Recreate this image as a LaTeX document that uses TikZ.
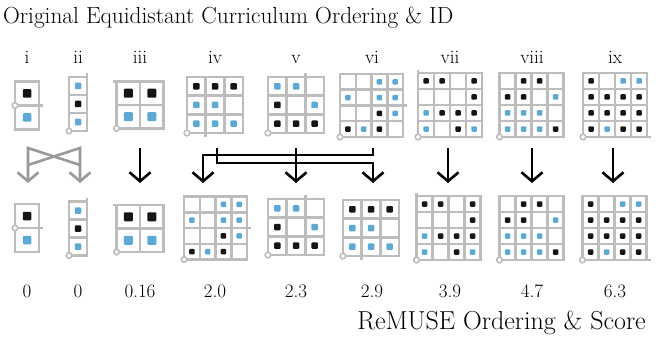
\documentclass[tikz,border=0pt]{standalone}
\usetikzlibrary{arrows.meta}
\definecolor{gridgray}{HTML}{BDBDBD}
\definecolor{arrgray}{HTML}{999999}
\definecolor{dotk}{HTML}{151515}
\definecolor{dotb}{HTML}{5AA9D6}
\colorlet{dote}{white}
\tikzset{
  gridline/.style={draw=gridgray,line width=2.5pt},
  origin/.style={draw=gridgray,fill=white,line width=1.6pt},
  barb/.style={-{Straight Barb[length=9pt,width=21pt]}},
  barrow/.style={draw=black,line width=2.6pt,barb},
  garrow/.style={draw=arrgray,line width=2.6pt,barb},
  lab/.style={font=\fontsize{19}{22}\selectfont,anchor=base},
  ttl/.style={font=\fontsize{23.3}{27}\selectfont},
  sttl/.style={font=\fontsize{26}{30}\selectfont},
}
% #1 name, #2 cx, #3 cy, #4 cols, #5 rows, #6 cell, #7 dot, #8 rows list macro, #9 extra
\newcommand\mkgrid[9]{%
  \begin{scope}[shift={({#2-#4*#6/2},{-#3+#5*#6/2})}]
    \pgfmathsetmacro\gw{#4*#6}%
    \pgfmathsetmacro\gh{#5*#6}%
    \pgfmathsetmacro\cs{#6}%
    \coordinate (#1) at ({\gw/2},{-\gh/2});
    \draw[gridline,step=#6] (0,0) grid (\gw,-\gh);
    \draw[gridline] (0,0) rectangle (\gw,-\gh);
    \foreach \row [count=\j] in #8 {
      \foreach \c [count=\i] in \row {
        \fill[dot\c,rounded corners=1pt] ({(\i-0.5)*#6-#7/2},{-(\j-0.5)*#6-#7/2}) rectangle ++(#7,#7);
      }
    }
    #9
  \end{scope}}
\begin{document}
\begin{tikzpicture}[x=1pt,y=1pt]
\useasboundingbox (0,0) rectangle (662,-337);
\node[ttl,anchor=base west,inner sep=0] (title) at (3,-24) {Original Equidistant Curriculum Ordering \& ID};
\node[sttl,anchor=base east,inner sep=0] (subtitle) at (646,-329) {ReMUSE Ordering \& Score};
% labels
\foreach \t/\x [count=\n] in {i/27,ii/78,iii/140,iv/215,v/296,vi/372,vii/450,viii/532,ix/615} {
  \node[lab] (id\n) at (\x,-64) {\t};
}
\foreach \t/\x [count=\n] in {0/27,0/78,0.16/140,2.0/215,2.3/296,2.9/372,3.9/450,4.7/532,6.3/615} {
  \node[lab] (sc\n) at (\x,-297) {\t};
}
% ---- grid contents
\def\Gi{{k},{b}}
\def\Gii{{b},{k},{b}}
\def\Giii{{k,k},{b,b}}
\def\Giv{{k,k,k},{b,b,e},{b,b,b}}
\def\Gv{{b,b,e},{k,e,b},{k,k,k}}
\def\Gvi{{e,e,b,b},{b,e,b,b},{e,e,k,b},{k,b,k,e}}
\def\Gvii{{k,k,e,k},{e,e,e,k},{b,k,k,k},{b,e,k,b}}
\def\Gviii{{e,k,k,e},{k,k,e,b},{b,b,b,e},{b,b,b,k}}
\def\Gix{{k,e,b,b},{k,k,k,k},{k,k,k,k},{k,b,k,k}}
% ---- top row
\mkgrid{t1}{27}{105.5}{1}{2}{24}{8.5}{\Gi}{\draw[gridline](\gw,-\gh/2)--++(4,0);\draw[origin](0,-\gh/2) circle (2.8);}
\mkgrid{t2}{78}{104}{1}{3}{18}{6.5}{\Gii}{\draw[gridline](\gw,0)--++(0,4);\draw[origin](0,-\gh) circle (2.8);}
\mkgrid{t3}{140}{105}{2}{2}{23.5}{9}{\Giii}{\draw[gridline](0,0)--++(-4,0);\draw[origin](0,-\gh) circle (2.8);}
\mkgrid{t4}{215}{105}{3}{3}{18.7}{6.5}{\Giv}{\draw[gridline](\cs,-\gh)--++(0,-4);\draw[origin](0,-\gh) circle (2.8);}
\mkgrid{t5}{296}{105}{3}{3}{18.7}{6.5}{\Gv}{\draw[gridline](2*\cs,0)--++(0,4);\draw[origin](0,-\gh) circle (2.8);}
\mkgrid{t6}{371.5}{105.5}{4}{4}{15.75}{5.5}{\Gvi}{\draw[gridline](\gw,-\gh/2)--++(4,0);\draw[origin](0,-\gh) circle (2.8);}
\mkgrid{t7}{450}{105}{4}{4}{16}{5.5}{\Gvii}{\draw[gridline](0,0)--++(0,3);\draw[origin](0,-\gh) circle (2.8);}
\mkgrid{t8}{531.5}{105}{4}{4}{16}{5.5}{\Gviii}{\draw[origin](0,-\gh) circle (2.8);}
\mkgrid{t9}{615}{105}{4}{4}{16}{5.5}{\Gix}{\draw[gridline](\gw,-\gh)--++(4,0);\draw[origin](0,-\gh) circle (2.8);}
% ---- bottom row
\mkgrid{b1}{27}{228}{1}{2}{24}{8.5}{\Gi}{\draw[gridline](\gw,-\gh/2)--++(4,0);\draw[origin](0,-\gh/2) circle (2.8);}
\mkgrid{b2}{78}{228.5}{1}{3}{18}{6.5}{\Gii}{\draw[gridline](\gw,0)--++(0,4);\draw[origin](0,-\gh) circle (2.8);}
\mkgrid{b3}{140}{228.5}{2}{2}{23.5}{9}{\Giii}{\draw[gridline](0,0)--++(-4,0);\draw[origin](0,-\gh) circle (2.8);}
\mkgrid{b4}{215.5}{228}{4}{4}{15.75}{5.5}{\Gvi}{\draw[gridline](\gw,-\gh/2)--++(4,0);\draw[origin](0,-\gh) circle (2.8);}
\mkgrid{b5}{296}{227}{3}{3}{18.7}{6.5}{\Gv}{\draw[gridline](2*\cs,0)--++(0,4);\draw[origin](0,-\gh) circle (2.8);}
\mkgrid{b6}{371}{228}{3}{3}{18.7}{6.5}{\Giv}{\draw[gridline](\cs,-\gh)--++(0,-4);\draw[origin](0,-\gh) circle (2.8);}
\mkgrid{b7}{448.5}{228}{4}{4}{16}{5.5}{\Gvii}{\draw[gridline](0,0)--++(0,3);\draw[origin](0,-\gh) circle (2.8);}
\mkgrid{b8}{531.5}{228}{4}{4}{16}{5.5}{\Gviii}{\draw[origin](0,-\gh) circle (2.8);}
\mkgrid{b9}{614.5}{228}{4}{4}{16}{5.5}{\Gix}{\draw[gridline](\gw,-\gh)--++(4,0);\draw[origin](0,-\gh) circle (2.8);}
% ---- arrow end points
\foreach \n/\x in {1/28,2/80,3/140,4/217,5/296,6/373,7/448,8/532,9/613} {
  \coordinate (s\n) at (\x,-148);
}
\foreach \n/\x in {1/28,2/80,3/140,4/203,5/296,6/373,7/448,8/532,9/613} {
  \coordinate (e\n) at (\x,-183);
}
\coordinate (m1) at (28,-165);
\coordinate (m2) at (80,-165);
% gray crossing arrows
\draw[garrow] (m2) -- (s1) -- (e1);
\draw[garrow] (m1) -- (s2) -- (e2);
% straight black arrows
\draw[barrow] (s3) -- (e3);
\draw[barrow] (s5) -- (e5);
\draw[barrow] (s7) -- (e7);
\draw[barrow] (s8) -- (e8);
\draw[barrow] (s9) -- (e9);
% routed black arrows
\draw[barrow] (s6) |- (e4 |- 0,-155) -- (e4);
\draw[barrow] (s4) |- (e6 |- 0,-163) -- (e6);
\end{tikzpicture}
\end{document}
